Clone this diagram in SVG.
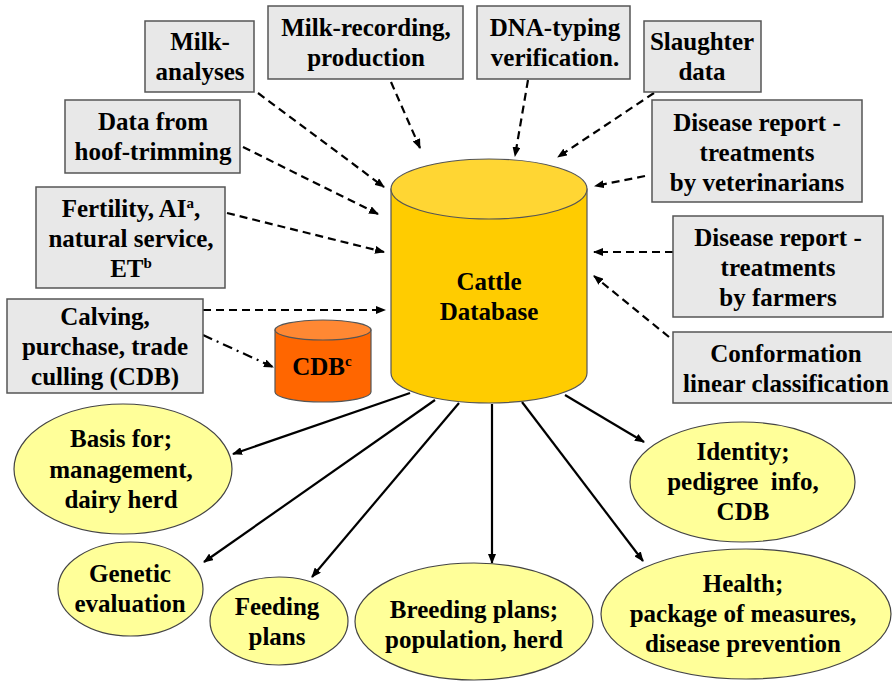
<svg xmlns="http://www.w3.org/2000/svg" width="892" height="682" viewBox="0 0 892 682" font-family="'Liberation Serif', 'Times New Roman', 'DejaVu Serif', serif">
<defs>
<style>
text{font-family:'Liberation Serif','Times New Roman','DejaVu Serif',serif;font-weight:bold;font-size:25px;fill:#000;text-anchor:middle}
.box{fill:#E8E8E8;stroke:#555;stroke-width:1.5}
.ell{fill:#FFFF99;stroke:#444;stroke-width:1.2}
.dash{fill:none;stroke:#000;stroke-width:2.2;stroke-dasharray:8 5}
.dd{fill:none;stroke:#000;stroke-width:2.2;stroke-dasharray:10 5 2 5}
.solid{fill:none;stroke:#000;stroke-width:2.2}
.sup{font-size:15px}
</style>
<marker id="ah" markerWidth="10" markerHeight="8" refX="9" refY="4" orient="auto" markerUnits="userSpaceOnUse">
<path d="M0,0 L10,4 L0,8 Z" fill="#000"/>
</marker>
</defs>
<rect width="892" height="682" fill="#fff"/>

<g id="connectors">
<line class="dash" x1="258" y1="93" x2="384" y2="187" marker-end="url(#ah)"/>
<line class="dash" x1="391" y1="82" x2="420" y2="148" marker-end="url(#ah)"/>
<line class="dash" x1="243" y1="147" x2="378" y2="214" marker-end="url(#ah)"/>
<line class="dash" x1="227" y1="213" x2="384" y2="252" marker-end="url(#ah)"/>
<line class="dash" x1="203" y1="310" x2="385" y2="310" marker-end="url(#ah)"/>
<line class="dd" x1="203" y1="335" x2="273" y2="367" marker-end="url(#ah)"/>
<line class="dash" x1="528" y1="80" x2="515" y2="156" marker-end="url(#ah)"/>
<line class="dash" x1="654" y1="93" x2="558" y2="157" marker-end="url(#ah)"/>
<line class="dash" x1="645" y1="176" x2="595" y2="186" marker-end="url(#ah)"/>
<line class="dash" x1="673" y1="252" x2="594" y2="252" marker-end="url(#ah)"/>
<line class="dash" x1="669" y1="337" x2="594" y2="276" marker-end="url(#ah)"/>
<line class="solid" x1="410" y1="393" x2="233" y2="454" marker-end="url(#ah)"/>
<line class="solid" x1="435" y1="400" x2="204" y2="562" marker-end="url(#ah)"/>
<line class="solid" x1="459" y1="403" x2="312" y2="577" marker-end="url(#ah)"/>
<line class="solid" x1="492" y1="404" x2="492" y2="563" marker-end="url(#ah)"/>
<line class="solid" x1="522" y1="402" x2="643" y2="561" marker-end="url(#ah)"/>
<line class="solid" x1="565" y1="395" x2="644" y2="442" marker-end="url(#ah)"/>
</g>

<g id="cattle-db">
<path d="M391,189 L391,373 A98,30 0 0 0 587,373 L587,189 Z" fill="#FFCC00" stroke="#555" stroke-width="1.2"/>
<ellipse cx="489" cy="189" rx="98" ry="30" fill="#FFD633" stroke="#555" stroke-width="1.2"/>
<text x="489" y="290">Cattle</text>
<text x="489" y="320">Database</text>
</g>

<g id="cdb">
<path d="M275,330 L275,392 A48,10 0 0 0 371,392 L371,330 Z" fill="#FF6600" stroke="#555" stroke-width="1.2"/>
<ellipse cx="323" cy="330" rx="48" ry="10" fill="#FF8833" stroke="#555" stroke-width="1.2"/>
<text x="322" y="375">CDB<tspan class="sup" dy="-9">c</tspan></text>
</g>

<g id="milk-analyses">
<rect class="box" x="145" y="21" width="109" height="71"/>
<text x="200" y="50">Milk-</text>
<text x="200" y="80">analyses</text>
</g>
<g id="milk-recording">
<rect class="box" x="268" y="6" width="195" height="73"/>
<text x="366" y="36">Milk-recording,</text>
<text x="366" y="66">production</text>
</g>
<g id="dna-typing">
<rect class="box" x="477" y="6" width="153" height="73"/>
<text x="555" y="36">DNA-typing</text>
<text x="555" y="66">verification.</text>
</g>
<g id="slaughter">
<rect class="box" x="644" y="21" width="117" height="71"/>
<text x="702" y="50">Slaughter</text>
<text x="702" y="80">data</text>
</g>
<g id="disease-vets">
<rect class="box" x="652" y="100" width="210" height="102"/>
<text x="757" y="131">Disease report -</text>
<text x="757" y="161">treatments</text>
<text x="757" y="191">by veterinarians</text>
</g>
<g id="hoof">
<rect class="box" x="65" y="100" width="175" height="73"/>
<text x="153" y="130">Data from</text>
<text x="153" y="160">hoof-trimming</text>
</g>
<g id="fertility">
<rect class="box" x="36" y="187" width="189" height="101"/>
<text x="131" y="217">Fertility, AI<tspan class="sup" dy="-9">a</tspan><tspan dy="9">,</tspan></text>
<text x="131" y="247">natural service,</text>
<text x="131" y="277">ET<tspan class="sup" dy="-9">b</tspan></text>
</g>
<g id="calving">
<rect class="box" x="7" y="299" width="196" height="94"/>
<text x="105" y="325">Calving,</text>
<text x="105" y="355">purchase, trade</text>
<text x="105" y="385">culling (CDB)</text>
</g>
<g id="disease-farmers">
<rect class="box" x="673" y="216" width="210" height="101"/>
<text x="778" y="246">Disease report -</text>
<text x="778" y="276">treatments</text>
<text x="778" y="306">by farmers</text>
</g>
<g id="conformation">
<rect class="box" x="673" y="332" width="228" height="71"/>
<text x="786" y="362">Conformation</text>
<text x="786" y="392">linear classification</text>
</g>

<g id="basis">
<ellipse class="ell" cx="123" cy="469" rx="109" ry="65"/>
<text x="121" y="447">Basis for;</text>
<text x="121" y="478">management,</text>
<text x="121" y="508">dairy herd</text>
</g>
<g id="genetic">
<ellipse class="ell" cx="130.5" cy="589" rx="72.5" ry="47"/>
<text x="130" y="582">Genetic</text>
<text x="130" y="612">evaluation</text>
</g>
<g id="feeding">
<ellipse class="ell" cx="279" cy="621" rx="69" ry="44"/>
<text x="277" y="615">Feeding</text>
<text x="277" y="645">plans</text>
</g>
<g id="breeding">
<ellipse class="ell" cx="474" cy="621.5" rx="119" ry="58.5"/>
<text x="474" y="618">Breeding plans;</text>
<text x="474" y="648">population, herd</text>
</g>
<g id="identity">
<ellipse class="ell" cx="742.5" cy="482" rx="112.5" ry="60"/>
<text x="743" y="460">Identity;</text>
<text x="743" y="490" xml:space="preserve">pedigree  info,</text>
<text x="743" y="520">CDB</text>
</g>
<g id="health">
<ellipse class="ell" cx="746" cy="614" rx="145" ry="65"/>
<text x="743" y="592">Health;</text>
<text x="743" y="622">package of measures,</text>
<text x="743" y="652">disease prevention</text>
</g>
</svg>
